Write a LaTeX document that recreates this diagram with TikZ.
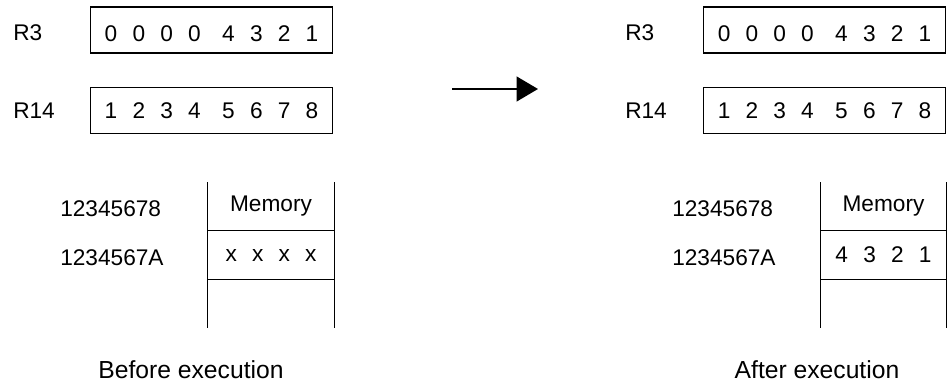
\documentclass[tikz,border=0pt]{standalone}
\usepackage{fontspec}
\setmainfont{Liberation Sans}
\usetikzlibrary{arrows.meta,positioning}

% spacing between digits inside the boxes
\newcommand{\dsp}{\hspace{11.4pt}}
\newcommand{\gsp}{\hspace{16.1pt}}

\begin{document}
\begin{tikzpicture}[
    x=0.75pt, y=-0.75pt,
    every node/.style={font=\fontsize{17}{20}\selectfont, inner sep=0pt},
    regbox/.style={draw, line width=0.8pt, minimum width=182pt, minimum height=34.5pt},
    cell/.style={minimum width=94.5pt, minimum height=36pt},
    lbl/.style={anchor=west},
    caplabel/.style={font=\fontsize{18.5}{22}\selectfont},
    memline/.style={line width=0.8pt},
    arr/.style={-{Triangle[length=16pt,width=18.5pt]}, line width=1.6pt}
]
\useasboundingbox (0,0) rectangle (949,388);

% Before execution (left)
\node[lbl] (bR3lab) at (13,32.5) {R3};
\node[regbox, text height=18pt, text depth=0pt] (bR3) at (211.5,30) {0\dsp0\dsp0\dsp0\gsp4\dsp3\dsp2\dsp1};
\node[lbl] (bR14lab) at (13,111) {R14};
\node[regbox] (bR14) at (211.5,110.5) {1\dsp2\dsp3\dsp4\gsp5\dsp6\dsp7\dsp8};

\node[cell] (bhead) at (271,206.5) {Memory};
\node[cell, below=0pt of bhead] (bcell) {x\dsp x\dsp x\dsp x};
\node[cell, below=0pt of bcell] (bfree) {};
\draw[memline] (bhead.north west) -- (bfree.south west);
\draw[memline] (bhead.north east) -- (bfree.south east);
\draw[memline] (bhead.south west) -- (bhead.south east);
\draw[memline] (bcell.south west) -- (bcell.south east);

\node[lbl] (badr1) at (60,209) {12345678};
\node[lbl] (badr2) at (60,258) {1234567A};

\node[caplabel] (bcap) at (191,370) {Before execution};

% Arrow between the two states
\coordinate (from) at (452,89);
\coordinate (to) at (538,89);
\draw[arr] (from) -- (to);

% After execution (right)
\node[lbl] (aR3lab) at (625,32.5) {R3};
\node[regbox, text height=18pt, text depth=0pt] (aR3) at (824.5,30) {0\dsp0\dsp0\dsp0\gsp4\dsp3\dsp2\dsp1};
\node[lbl] (aR14lab) at (625,111) {R14};
\node[regbox] (aR14) at (824.5,110.5) {1\dsp2\dsp3\dsp4\gsp5\dsp6\dsp7\dsp8};

\node[cell] (ahead) at (883.5,206.5) {Memory};
\node[cell, below=0pt of ahead] (acell) {4\dsp3\dsp2\dsp1};
\node[cell, below=0pt of acell] (afree) {};
\draw[memline] (ahead.north west) -- (afree.south west);
\draw[memline] (ahead.north east) -- (afree.south east);
\draw[memline] (ahead.south west) -- (ahead.south east);
\draw[memline] (acell.south west) -- (acell.south east);

\node[lbl] (aadr1) at (672,209) {12345678};
\node[lbl] (aadr2) at (672,258) {1234567A};

\node[caplabel] (acap) at (817,370) {After execution};

\end{tikzpicture}
\end{document}
